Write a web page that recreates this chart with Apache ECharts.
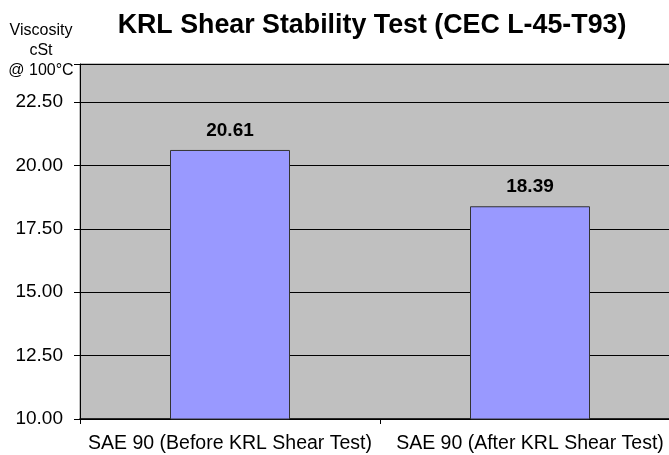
<!DOCTYPE html>
<html><head><meta charset="utf-8">
<script src="https://cdn.jsdelivr.net/npm/echarts@6/dist/echarts.min.js"></script>
<style>html,body{margin:0;padding:0;background:#fff}#c{width:669px;height:455px}</style>
</head><body><div id="c"></div>
<script>
const categories = ["SAE 90 (Before KRL Shear Test)", "SAE 90 (After KRL Shear Test)"];
const viscosity = [20.61, 18.39];
const titleText = "KRL Shear Stability Test (CEC L-45-T93)";
const yName = "Viscosity\ncSt\n@ 100°C";
const chart = echarts.init(document.getElementById('c'), null, {renderer: 'canvas'});
chart.setOption({
  animation: false,
  textStyle: {fontFamily: 'Liberation Sans, Arial, sans-serif'},
  title: {text: titleText, left: 367, top: 7, textAlign: 'center',
    textStyle: {fontSize: 26.8, fontWeight: 'bold', color: '#000', fontFamily: 'Liberation Sans'}},
  grid: {left: 80, width: 600, top: 64, height: 355, containLabel: false, outerBoundsMode: 'none',
    show: true, backgroundColor: '#C0C0C0', borderColor: '#808080', borderWidth: 1},
  xAxis: {type: 'category', data: categories,
    axisLine: {lineStyle: {color: '#000', width: 1.5}},
    axisTick: {show: true, length: 5, alignWithLabel: false, lineStyle: {color: '#000'}},
    axisLabel: {fontSize: 19.5, color: '#000', margin: 15, interval: 0, fontFamily: 'Liberation Sans'}},
  yAxis: {type: 'value', min: 10, max: 24, interval: 2.5,
    name: yName, nameLocation: 'end', nameGap: 4,
    nameTextStyle: {fontSize: 16, color: '#000', align: 'center', lineHeight: 20, padding: [0, 0, -21, -78], fontFamily: 'Liberation Sans'},
    axisLine: {show: true, lineStyle: {color: '#000', width: 1}},
    axisTick: {show: true, length: 6, inside: false, lineStyle: {color: '#000'}},
    splitLine: {show: true, lineStyle: {color: '#000', width: 1}},
    axisLabel: {fontSize: 19, color: '#000', margin: 17, fontFamily: 'Liberation Sans',
      formatter: v => (v === 24 ? '' : v.toFixed(2))}},
  series: [{type: 'bar', data: viscosity, barWidth: '40%',
    itemStyle: {color: '#9999FF', borderColor: '#333333', borderWidth: 1},
    label: {show: true, position: 'top', distance: 10, fontSize: 19, fontWeight: 'bold', color: '#000',
      fontFamily: 'Liberation Sans', formatter: p => p.value.toFixed(2)}}]
});
</script></body></html>
